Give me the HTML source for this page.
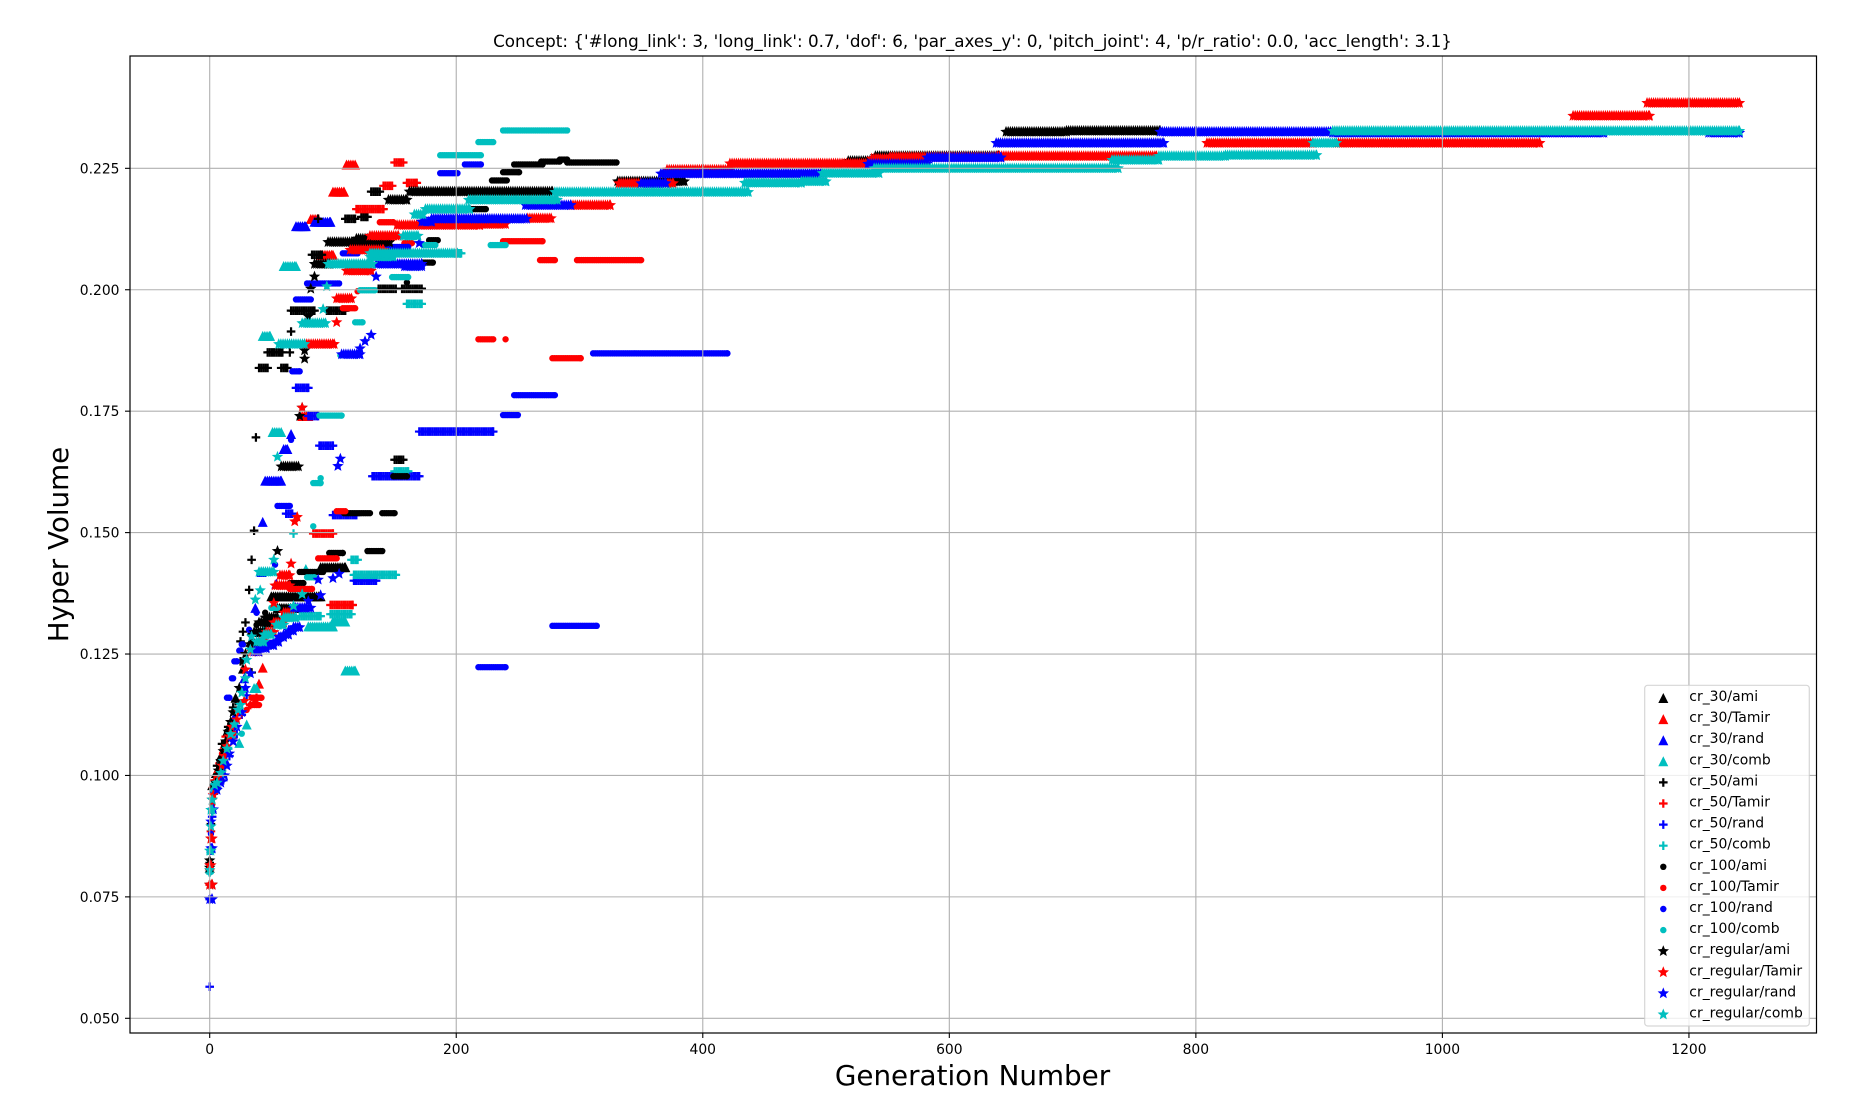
<!DOCTYPE html>
<html lang="en">
<head>
<meta charset="utf-8">
<title>Hyper Volume by Generation</title>
<style>
html,body{margin:0;padding:0;background:#fff;width:1853px;height:1111px;overflow:hidden}
svg{display:block}
text{font-family:"DejaVu Sans","Liberation Sans",sans-serif;fill:#000}
</style>
</head>
<body>
<svg id="chart" xmlns="http://www.w3.org/2000/svg" width="1853" height="1111" viewBox="0 0 1853 1111">
  <rect x="0" y="0" width="1853" height="1111" fill="#fff"/>
  <g id="marks"></g>
  <g id="grid"></g>
  <rect x="130" y="56" width="1686.5" height="977" fill="none" stroke="#000" stroke-width="1.2"/>
  <g id="ticks"></g>
  <text x="972.5" y="47" font-size="16.75" text-anchor="middle">Concept: {'#long_link': 3, 'long_link': 0.7, 'dof': 6, 'par_axes_y': 0, 'pitch_joint': 4, 'p/r_ratio': 0.0, 'acc_length': 3.1}</text>
  <text x="972.5" y="1085" font-size="27.78" text-anchor="middle">Generation Number</text>
  <text x="0" y="0" font-size="27.78" text-anchor="middle" transform="translate(68 544.5) rotate(-90)">Hyper Volume</text>
  <g id="legend"></g>
</svg>
<script>
// Each run is [first generation, last generation, hyper volume].
const xTicks = [0, 200, 400, 600, 800, 1000, 1200];
const yTicks = [0.05, 0.075, 0.1, 0.125, 0.15, 0.175, 0.2, 0.225];

const cr30Ami = [[0,0,.081],[2,2,.098],[5,5,.1005],[9,9,.104],[14,14,.109],[21,21,.116],[27,27,.122],[33,33,.1275],[40,40,.1295],[47,52,.1315],[50,90,.1369],[55,70,.1345],[90,110,.1429]];
const cr30Tamir = [[0,0,.0815],[3,3,.0985],[7,7,.1015],[12,12,.1065],[18,18,.1085],[37,37,.1155],[40,40,.1189],[43,43,.1222],[75,80,.174],[82,88,.2146],[90,100,.2072],[100,109,.2202],[111,118,.2258]];
const cr30Rand = [[3,3,.097],[8,8,.1],[13,13,.103],[20,20,.112],[28,28,.12],[35,35,.1265],[37,37,.1345],[42,42,.1419],[54,54,.1395],[43,43,.1522],[45,58,.1607],[60,63,.1672],[66,66,.1703],[70,78,.2131],[85,98,.214]];
const cr30Comb = [[1,1,.085],[4,4,.099],[9,9,.102],[24,24,.1067],[30,30,.1105],[36,38,.118],[43,49,.1905],[51,58,.1707],[60,70,.2049],[78,78,.1425],[80,100,.1307],[100,110,.1317],[110,118,.1216]];

const cr50Ami = [[0,0,.082],[1,1,.09],[3,3,.098],[6,6,.102],[10,10,.1065],[15,15,.11],[19,19,.114],[21,21,.1153],[25,25,.1235],[25,25,.1276],[27,27,.1296],[29,29,.1315],[34,34,.1212],[32,32,.1382],[34,34,.1444],[36,36,.1504],[37.5,37.5,.1696],[40,47,.1839],[47,59,.1871],[58,63,.1839],[65,65,.1871],[66,66,.1914],[66,85,.1957],[95,110,.1957],[83,91,.2072],[88,88,.2146],[110,118,.2146],[123,128,.215],[131,138,.2202],[137,151,.2002],[156,172,.2002],[150,157,.165]];
const cr50Tamir = [[0,0,.0775],[1,1,.0885],[4,4,.099],[8,8,.1025],[13,13,.108],[19,19,.11],[26,26,.1125],[33,33,.1145],[38,38,.116],[84,100,.1498],[98,116,.1351],[119,141,.2166],[141,148,.2214],[150,157,.2262],[160,168,.222]];
const cr50Rand = [[0,0,.0565],[0,0,.0745],[1,1,.0845],[2,2,.0915],[6,6,.0975],[11,11,.099],[16,16,.104],[22,22,.1085],[26,26,.1125],[30,30,.1165],[62,67,.1539],[70,80,.1798],[80,88,.174],[89,100,.1679],[100,119,.1536],[117,135,.1401],[132,170,.1616],[170,230,.1708]];
const cr50Comb = [[0,0,.08],[2,2,.0925],[5,5,.097],[10,10,.101],[15,15,.1055],[20,20,.1085],[68,68,.1498],[73,90,.1328],[98,115,.1332],[115,120,.1444],[117,151,.1413],[150,161,.1626],[160,172,.1971],[200,204,.2075]];

const cr100Ami = [[0,0,.0815],[1,1,.09],[3,3,.0975],[8,8,.1025],[14,14,.109],[20,20,.1135],[27,27,.1235],[33,33,.129],[38,38,.131],[45,45,.1335],[55,62,.1345],[65,76,.1396],[73,92,.1419],[97,108,.1458],[128,140,.1462],[109,130,.154],[140,150,.154],[149,160,.1616],[160,160,.2015],[173,181,.2056],[178,185,.2102],[212,224,.2166],[229,241,.2225],[238,251,.2242],[247,270,.2258],[269,284,.2264],[284,290,.2268],[290,330,.2262]];
const cr100Tamir = [[0,0,.0775],[2,2,.094],[5,5,.099],[10,10,.1045],[15,15,.108],[19,19,.1087],[30,30,.1135],[33,40,.1145],[34,42,.116],[65,83,.1384],[88,103,.1447],[103,110,.1544],[108,118,.1962],[120,120,.1997],[158,164,.2096],[138,149,.2139],[218,230,.1898],[240,240,.1898],[238,270,.21],[268,280,.2061],[278,301,.1859],[298,350,.2061]];
const cr100Rand = [[0,0,.0745],[1,1,.088],[14,16,.116],[18,19,.12],[20,22,.1235],[24,25,.1257],[26,27,.127],[32,32,.13],[38,38,.1335],[53,53,.1434],[55,65,.1555],[66,66,.1691],[67,73,.1832],[70,82,.198],[79,105,.2013],[108,120,.2075],[138,161,.2088],[187,201,.224],[207,220,.2258],[218,240,.1223],[238,250,.1742],[247,280,.1783],[278,314,.1308],[311,420,.1869]];
const cr100Comb = [[0,0,.08],[3,3,.097],[9,9,.1025],[15,15,.1055],[26,26,.1086],[44,44,.13],[50,55,.1345],[79,85,.1408],[84,84,.1513],[84,90,.1602],[90,90,.1612],[89,107,.1741],[106,106,.1865],[118,124,.1933],[122,134,.1999],[148,161,.2026],[173,183,.2092],[228,240,.2092],[187,220,.2277],[218,230,.2304],[238,290,.2328]];

const crRegularAmi = [[0,0,.081],[0,0,.0825],[0,2,.0775],[1,1,.087],[2,2,.095],[5,5,.0985],[7,7,.101],[9,9,.103],[11,11,.105],[13,13,.107],[15,15,.109],[17,17,.111],[19,19,.113],[24,24,.118],[29,29,.125],[33,38,.127],[36,46,.1295],[40,50,.1315],[45,55,.1325],[55,55,.1462],[58,72,.1636],[73,73,.174],[75,75,.1757],[77,77,.1858],[77,77,.1875],[80,80,.1945],[82,82,.2002],[85,85,.2027],[85,97,.2053],[96,146,.2098],[119,130,.2105],[145,160,.2185],[162,278,.2202],[331,385,.2223],[518,537,.2265],[540,640,.2275],[646,695,.2325],[695,771,.2327]];
const crRegularTamir = [[0,2,.0775],[0,1,.0815],[1,2,.087],[3,3,.096],[8,8,.0995],[10,10,.102],[12,12,.104],[14,14,.106],[16,16,.108],[18,18,.11],[22,22,.1115],[24,24,.113],[28,28,.1153],[29,29,.1218],[34,40,.1255],[40,46,.1275],[46,52,.1295],[52,60,.1315],[60,66,.1335],[52,52,.1355],[53,65,.1391],[57,65,.1412],[66,66,.1436],[69,69,.1523],[71,71,.1532],[75,75,.1757],[77,101,.1888],[103,103,.1933],[103,115,.1982],[111,131,.2039],[114,141,.2082],[130,153,.2111],[152,219,.2133],[219,240,.2135],[258,277,.2147],[293,325,.2174],[332,350,.2219],[370,376,.2219],[371,422,.2247],[422,537,.226],[537,552,.227],[552,640,.2273],[639,768,.2275],[809,895,.2302],[914,1079,.2302],[1106,1168,.2358],[1166,1241,.23845]];
const crRegularRand = [[0,2,.0745],[1,2,.085],[1,1,.0905],[3,3,.093],[6,6,.097],[9,9,.0985],[12,12,.1],[14,14,.102],[16,16,.1045],[19,19,.107],[22,22,.11],[26,26,.113],[29,29,.118],[33,33,.121],[36,40,.1255],[40,46,.1262],[46,52,.1268],[52,56,.1275],[56,60,.1285],[60,64,.129],[64,68,.1298],[68,73,.1305],[68,82,.1345],[80,80,.1359],[90,90,.1371],[88,88,.1403],[100,100,.1406],[105,105,.1415],[104,104,.1637],[106,106,.1652],[107,122,.1867],[122,122,.1879],[126,126,.1894],[131,131,.1907],[135,135,.2027],[135,172,.2053],[158,172,.2048],[170,170,.2096],[172,180,.214],[180,257,.2146],[256,293,.2174],[350,370,.2219],[366,497,.2239],[534,582,.2259],[582,642,.2272],[638,774,.2302],[771,911,.2325],[911,1131,.2323],[1216,1241,.2323]];
const crRegularComb = [[0,0,.0805],[0,1,.0845],[1,1,.0895],[1,2,.0929],[2,2,.095],[4,4,.098],[6,6,.0985],[9,9,.1005],[11,11,.103],[14,14,.1055],[17,17,.1085],[20,20,.1105],[23,23,.1135],[25,25,.1145],[26,26,.117],[29,29,.12],[30,30,.1238],[33,33,.1259],[34,34,.1286],[38,44,.1275],[44,50,.129],[54,60,.131],[60,70,.1325],[37,37,.1362],[41,41,.1381],[40,52,.1419],[52,52,.1444],[55,55,.1656],[68,68,.1349],[75,75,.1373],[56,77,.1888],[75,94,.1931],[92,92,.196],[95,95,.2007],[96,132,.2053],[130,149,.2068],[130,201,.2075],[157,169,.2111],[166,173,.2155],[175,211,.2166],[210,282,.2185],[280,437,.2201],[434,480,.222],[480,500,.2223],[497,543,.224],[539,737,.225],[732,770,.2267],[770,824,.2275],[824,898,.2277],[895,914,.2302],[911,1241,.23268]];

const seriesNames = ['cr_30/ami','cr_30/Tamir','cr_30/rand','cr_30/comb','cr_50/ami','cr_50/Tamir','cr_50/rand','cr_50/comb','cr_100/ami','cr_100/Tamir','cr_100/rand','cr_100/comb','cr_regular/ami','cr_regular/Tamir','cr_regular/rand','cr_regular/comb'];
const seriesRuns = [cr30Ami,cr30Tamir,cr30Rand,cr30Comb,cr50Ami,cr50Tamir,cr50Rand,cr50Comb,cr100Ami,cr100Tamir,cr100Rand,cr100Comb,crRegularAmi,crRegularTamir,crRegularRand,crRegularComb];

const NS = 'http://www.w3.org/2000/svg';
const palette = ['#000000', '#ff0000', '#0000ff', '#00bfbf'];
const X_ZERO = 209.7, X_SCALE = 1.2327, Y_ANCHOR = 1018.3, Y_SCALE = 4857, RUN_STEP = 1.75;

function xPx(gen) { return X_ZERO + gen * X_SCALE; }
function yPx(hv) { return Y_ANCHOR - (hv - 0.05) * Y_SCALE; }

function starPath(R) {
  const r = R * 0.44;
  let d = '';
  for (let i = 0; i < 10; i++) {
    const rad = i % 2 === 0 ? R : r;
    const a = -Math.PI / 2 + i * Math.PI / 5;
    d += (i === 0 ? 'M' : 'L') + (rad * Math.cos(a)).toFixed(2) + ' ' + (rad * Math.sin(a)).toFixed(2);
  }
  return d + 'Z';
}
const markerShapes = [
  'M0 -5L5 5L-5 5Z',
  'M-4.3 -1.1H-1.1V-4.3H1.1V-1.1H4.3V1.1H1.1V4.3H-1.1V1.1H-4.3Z',
  'M-3.2 0A3.2 3.2 0 1 0 3.2 0A3.2 3.2 0 1 0 -3.2 0Z',
  starPath(6)
];
const markerKinds = ['triangle', 'plus', 'circle', 'star'];

function addMarker(parent, seriesIndex, px, py) {
  const el = document.createElementNS(NS, 'path');
  el.setAttribute('d', markerShapes[Math.floor(seriesIndex / 4)]);
  el.setAttribute('fill', palette[seriesIndex % 4]);
  el.setAttribute('transform', 'translate(' + px.toFixed(2) + ' ' + py.toFixed(2) + ')');
  parent.appendChild(el);
  return el;
}

const marksLayer = document.getElementById('marks');
seriesRuns.forEach(function (runs, s) {
  const group = document.createElementNS(NS, 'g');
  
  
  marksLayer.appendChild(group);
  runs.forEach(function (run) {
    const gens = [];
    for (let g = run[0]; g < run[1]; g += RUN_STEP) gens.push(g);
    gens.push(run[1]);
    gens.forEach(function (g) {
      const point = addMarker(group, s, xPx(g), yPx(run[2]));
      
      
    });
  });
});

const gridLayer = document.getElementById('grid');
const tickLayer = document.getElementById('ticks');

function addLine(parent, x1, y1, x2, y2, color) {
  const ln = document.createElementNS(NS, 'line');
  ln.setAttribute('x1', x1); ln.setAttribute('y1', y1);
  ln.setAttribute('x2', x2); ln.setAttribute('y2', y2);
  ln.setAttribute('stroke', color);
  ln.setAttribute('stroke-width', '1.1');
  parent.appendChild(ln);
  return ln;
}
function addText(parent, x, y, str, anchor, size) {
  const t = document.createElementNS(NS, 'text');
  t.setAttribute('x', x); t.setAttribute('y', y);
  t.setAttribute('text-anchor', anchor);
  t.setAttribute('font-size', size);
  t.textContent = str;
  parent.appendChild(t);
  return t;
}

xTicks.forEach(function (v) {
  const px = xPx(v);
  const gl = addLine(gridLayer, px, 56, px, 1033, '#b0b0b0');
  
  
  const tk = addLine(tickLayer, px, 1033, px, 1038, '#000');
  
  
  const lb = addText(tickLayer, px, 1054, String(v), 'middle', 13.89);
  
  
});
yTicks.forEach(function (v) {
  const py = yPx(v);
  const gl = addLine(gridLayer, 130, py, 1816.5, py, '#b0b0b0');
  
  
  const tk = addLine(tickLayer, 125, py, 130, py, '#000');
  
  
  const lb = addText(tickLayer, 119.5, py + 5, v.toFixed(3), 'end', 13.89);
  
  
});

const legend = document.getElementById('legend');
const box = document.createElementNS(NS, 'rect');
box.setAttribute('x', '1644.7');
box.setAttribute('y', '685.3');
box.setAttribute('width', '164.6');
box.setAttribute('height', '340.7');
box.setAttribute('rx', '3');
box.setAttribute('fill', 'rgba(255,255,255,0.8)');
box.setAttribute('stroke', 'rgba(204,204,204,0.8)');
box.setAttribute('stroke-width', '1.2');


legend.appendChild(box);
seriesNames.forEach(function (name, s) {
  const rowY = 698 + s * 21.1;
  const entry = document.createElementNS(NS, 'g');
  
  
  legend.appendChild(entry);
  const swatch = addMarker(entry, s, 1663.3, rowY);
  
  
  const label = addText(entry, 1689.3, rowY + 3, name, 'start', 13.95);
  
  
});
</script>
</body>
</html>
